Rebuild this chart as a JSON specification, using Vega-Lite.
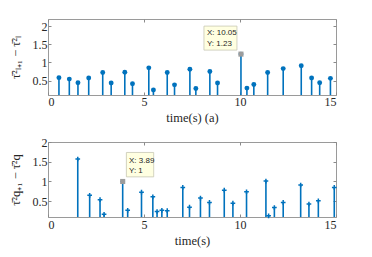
{
  "$schema": "https://vega.github.io/schema/vega-lite/v6.json",
  "padding": {"left": 8, "top": 18, "right": 10, "bottom": 5},
  "background": "white",
  "spacing": 47,
  "bounds": "flush",
  "config": {
    "view": {"stroke": "#9a9a9a", "strokeWidth": 1},
    "axis": {
      "grid": false, "domain": false, "tickColor": "#8a8a8a", "tickSize": -3,
      "labelFont": "Liberation Serif", "labelFontSize": 12, "labelColor": "#262626",
      "titleFont": "Liberation Serif", "titleFontSize": 12.5, "titleFontWeight": "normal", "titleColor": "#262626",
      "labelPadding": 4
    }
  },
  "datasets": {
    "top": [
      {"t": 0.57, "v": 0.58}, {"t": 1.11, "v": 0.54}, {"t": 1.56, "v": 0.44}, {"t": 2.12, "v": 0.57},
      {"t": 2.85, "v": 0.72}, {"t": 3.29, "v": 0.43}, {"t": 4.0, "v": 0.73}, {"t": 4.4, "v": 0.41},
      {"t": 5.25, "v": 0.85}, {"t": 5.49, "v": 0.24}, {"t": 6.21, "v": 0.72}, {"t": 6.59, "v": 0.38},
      {"t": 7.39, "v": 0.81}, {"t": 7.7, "v": 0.28}, {"t": 8.43, "v": 0.75}, {"t": 8.83, "v": 0.43},
      {"t": 10.05, "v": 1.23}, {"t": 10.36, "v": 0.29}, {"t": 10.72, "v": 0.39}, {"t": 11.44, "v": 0.72},
      {"t": 12.25, "v": 0.83}, {"t": 13.19, "v": 0.91}, {"t": 13.73, "v": 0.57}, {"t": 14.15, "v": 0.44},
      {"t": 14.71, "v": 0.56}
    ],
    "topTip": [{"t": 10.05, "v": 1.23, "lx": "X: 10.05", "ly": "Y: 1.23"}],
    "bottom": [
      {"t": 1.55, "v": 1.57}, {"t": 2.17, "v": 0.65}, {"t": 2.71, "v": 0.54}, {"t": 2.92, "v": 0.17},
      {"t": 3.89, "v": 1.0}, {"t": 4.15, "v": 0.27}, {"t": 4.87, "v": 0.73}, {"t": 5.46, "v": 0.61},
      {"t": 5.68, "v": 0.24}, {"t": 5.93, "v": 0.27}, {"t": 6.21, "v": 0.26}, {"t": 7.02, "v": 0.85},
      {"t": 7.37, "v": 0.35}, {"t": 7.94, "v": 0.58}, {"t": 8.41, "v": 0.47}, {"t": 9.18, "v": 0.78},
      {"t": 9.63, "v": 0.45}, {"t": 10.34, "v": 0.74}, {"t": 11.35, "v": 1.01}, {"t": 11.49, "v": 0.13},
      {"t": 11.79, "v": 0.34}, {"t": 12.25, "v": 0.47}, {"t": 13.16, "v": 0.91}, {"t": 13.59, "v": 0.43},
      {"t": 14.08, "v": 0.51}, {"t": 14.91, "v": 0.85}
    ],
    "bottomTip": [{"t": 3.89, "v": 1.0, "lx": "X: 3.89", "ly": "Y: 1"}]
  },
  "vconcat": [
    {
      "width": 288, "height": 76,
      "resolve": {"axis": {"x": "independent", "y": "independent"}},
      "layer": [
        {
          "data": {"name": "top"},
          "mark": {"type": "rule", "color": "#0072BD", "strokeWidth": 1.6, "clip": true},
          "encoding": {
            "x": {"field": "t", "type": "quantitative", "scale": {"domain": [0, 15], "nice": false},
                  "axis": {"values": [0, 5, 10, 15], "title": "time(s) (a)", "titlePadding": 4, "labelFont": "Liberation Serif", "titleFont": "Liberation Serif"}},
            "y": {"field": "v", "type": "quantitative", "scale": {"domain": [0.1, 2.2], "nice": false, "zero": false},
                  "axis": {"values": [0.5, 1, 1.5, 2], "format": "~g", "title": "τ̄²ₗ₊₁ − τ̄²ₗ", "titlePadding": 10, "labelFont": "Liberation Serif", "titleFont": "Liberation Serif"}},
            "y2": {"datum": 0}
          }
        },
        {
          "data": {"name": "top"},
          "mark": {"type": "point", "shape": "circle", "filled": true, "color": "#0072BD", "size": 24, "opacity": 1},
          "encoding": {
            "x": {"field": "t", "type": "quantitative",
                  "axis": {"orient": "top", "values": [0, 5, 10, 15], "labels": false, "title": null}},
            "y": {"field": "v", "type": "quantitative",
                  "axis": {"orient": "right", "values": [0.5, 1, 1.5, 2], "labels": false, "title": null}}
          }
        },
        {
          "data": {"name": "topTip"},
          "mark": {"type": "rect", "fill": "#FFFFE1", "stroke": "#c8c8b4", "strokeWidth": 0.8,
                   "xOffset": -37, "x2Offset": -4, "yOffset": -28, "y2Offset": -4},
          "encoding": {
            "x": {"field": "t", "type": "quantitative", "axis": null},
            "x2": {"field": "t"},
            "y": {"field": "v", "type": "quantitative", "axis": null},
            "y2": {"field": "v"}
          }
        },
        {
          "data": {"name": "topTip"},
          "mark": {"type": "point", "shape": "square", "filled": true, "color": "#9c9c9c", "size": 26, "opacity": 1},
          "encoding": {
            "x": {"field": "t", "type": "quantitative", "axis": null},
            "y": {"field": "v", "type": "quantitative", "axis": null}
          }
        },
        {
          "data": {"name": "topTip"},
          "mark": {"type": "text", "align": "left", "baseline": "middle", "dx": -34, "dy": -21,
                   "font": "Liberation Sans", "fontSize": 8, "color": "#262626"},
          "encoding": {
            "x": {"field": "t", "type": "quantitative", "axis": null},
            "y": {"field": "v", "type": "quantitative", "axis": null},
            "text": {"field": "lx"}
          }
        },
        {
          "data": {"name": "topTip"},
          "mark": {"type": "text", "align": "left", "baseline": "middle", "dx": -34, "dy": -10.6,
                   "font": "Liberation Sans", "fontSize": 8, "color": "#262626"},
          "encoding": {
            "x": {"field": "t", "type": "quantitative", "axis": null},
            "y": {"field": "v", "type": "quantitative", "axis": null},
            "text": {"field": "ly"}
          }
        }
      ]
    },
    {
      "width": 288, "height": 75,
      "resolve": {"axis": {"x": "independent", "y": "independent"}},
      "layer": [
        {
          "data": {"name": "bottom"},
          "mark": {"type": "rule", "color": "#0072BD", "strokeWidth": 1.6, "clip": true},
          "encoding": {
            "x": {"field": "t", "type": "quantitative", "scale": {"domain": [0, 15], "nice": false},
                  "axis": {"values": [0, 5, 10, 15], "title": "time(s)", "titlePadding": 4, "labelPadding": 5, "labelFont": "Liberation Serif", "titleFont": "Liberation Serif"}},
            "y": {"field": "v", "type": "quantitative", "scale": {"domain": [0.1, 2], "nice": false, "zero": false},
                  "axis": {"values": [0.5, 1, 1.5, 2], "format": "~g", "title": "τ̄²q₊₁ − τ̄²q", "titlePadding": 10, "labelFont": "Liberation Serif", "titleFont": "Liberation Serif"}},
            "y2": {"datum": 0}
          }
        },
        {
          "data": {"name": "bottom"},
          "mark": {"type": "point", "shape": "M-1,0H1M0,-1V1", "filled": false, "color": "#0072BD", "strokeWidth": 1.5, "size": 22, "opacity": 1},
          "encoding": {
            "x": {"field": "t", "type": "quantitative",
                  "axis": {"orient": "top", "values": [0, 5, 10, 15], "labels": false, "title": null}},
            "y": {"field": "v", "type": "quantitative",
                  "axis": {"orient": "right", "values": [0.5, 1, 1.5, 2], "labels": false, "title": null}}
          }
        },
        {
          "data": {"name": "bottomTip"},
          "mark": {"type": "rect", "fill": "#FFFFE1", "stroke": "#c8c8b4", "strokeWidth": 0.8,
                   "xOffset": 3.7, "x2Offset": 31, "yOffset": -29, "y2Offset": -4.6},
          "encoding": {
            "x": {"field": "t", "type": "quantitative", "axis": null},
            "x2": {"field": "t"},
            "y": {"field": "v", "type": "quantitative", "axis": null},
            "y2": {"field": "v"}
          }
        },
        {
          "data": {"name": "bottomTip"},
          "mark": {"type": "point", "shape": "square", "filled": true, "color": "#9c9c9c", "size": 26, "opacity": 1},
          "encoding": {
            "x": {"field": "t", "type": "quantitative", "axis": null},
            "y": {"field": "v", "type": "quantitative", "axis": null}
          }
        },
        {
          "data": {"name": "bottomTip"},
          "mark": {"type": "text", "align": "left", "baseline": "middle", "dx": 6.3, "dy": -20.6,
                   "font": "Liberation Sans", "fontSize": 8, "color": "#262626"},
          "encoding": {
            "x": {"field": "t", "type": "quantitative", "axis": null},
            "y": {"field": "v", "type": "quantitative", "axis": null},
            "text": {"field": "lx"}
          }
        },
        {
          "data": {"name": "bottomTip"},
          "mark": {"type": "text", "align": "left", "baseline": "middle", "dx": 6.3, "dy": -10,
                   "font": "Liberation Sans", "fontSize": 8, "color": "#262626"},
          "encoding": {
            "x": {"field": "t", "type": "quantitative", "axis": null},
            "y": {"field": "v", "type": "quantitative", "axis": null},
            "text": {"field": "ly"}
          }
        }
      ]
    }
  ]
}
